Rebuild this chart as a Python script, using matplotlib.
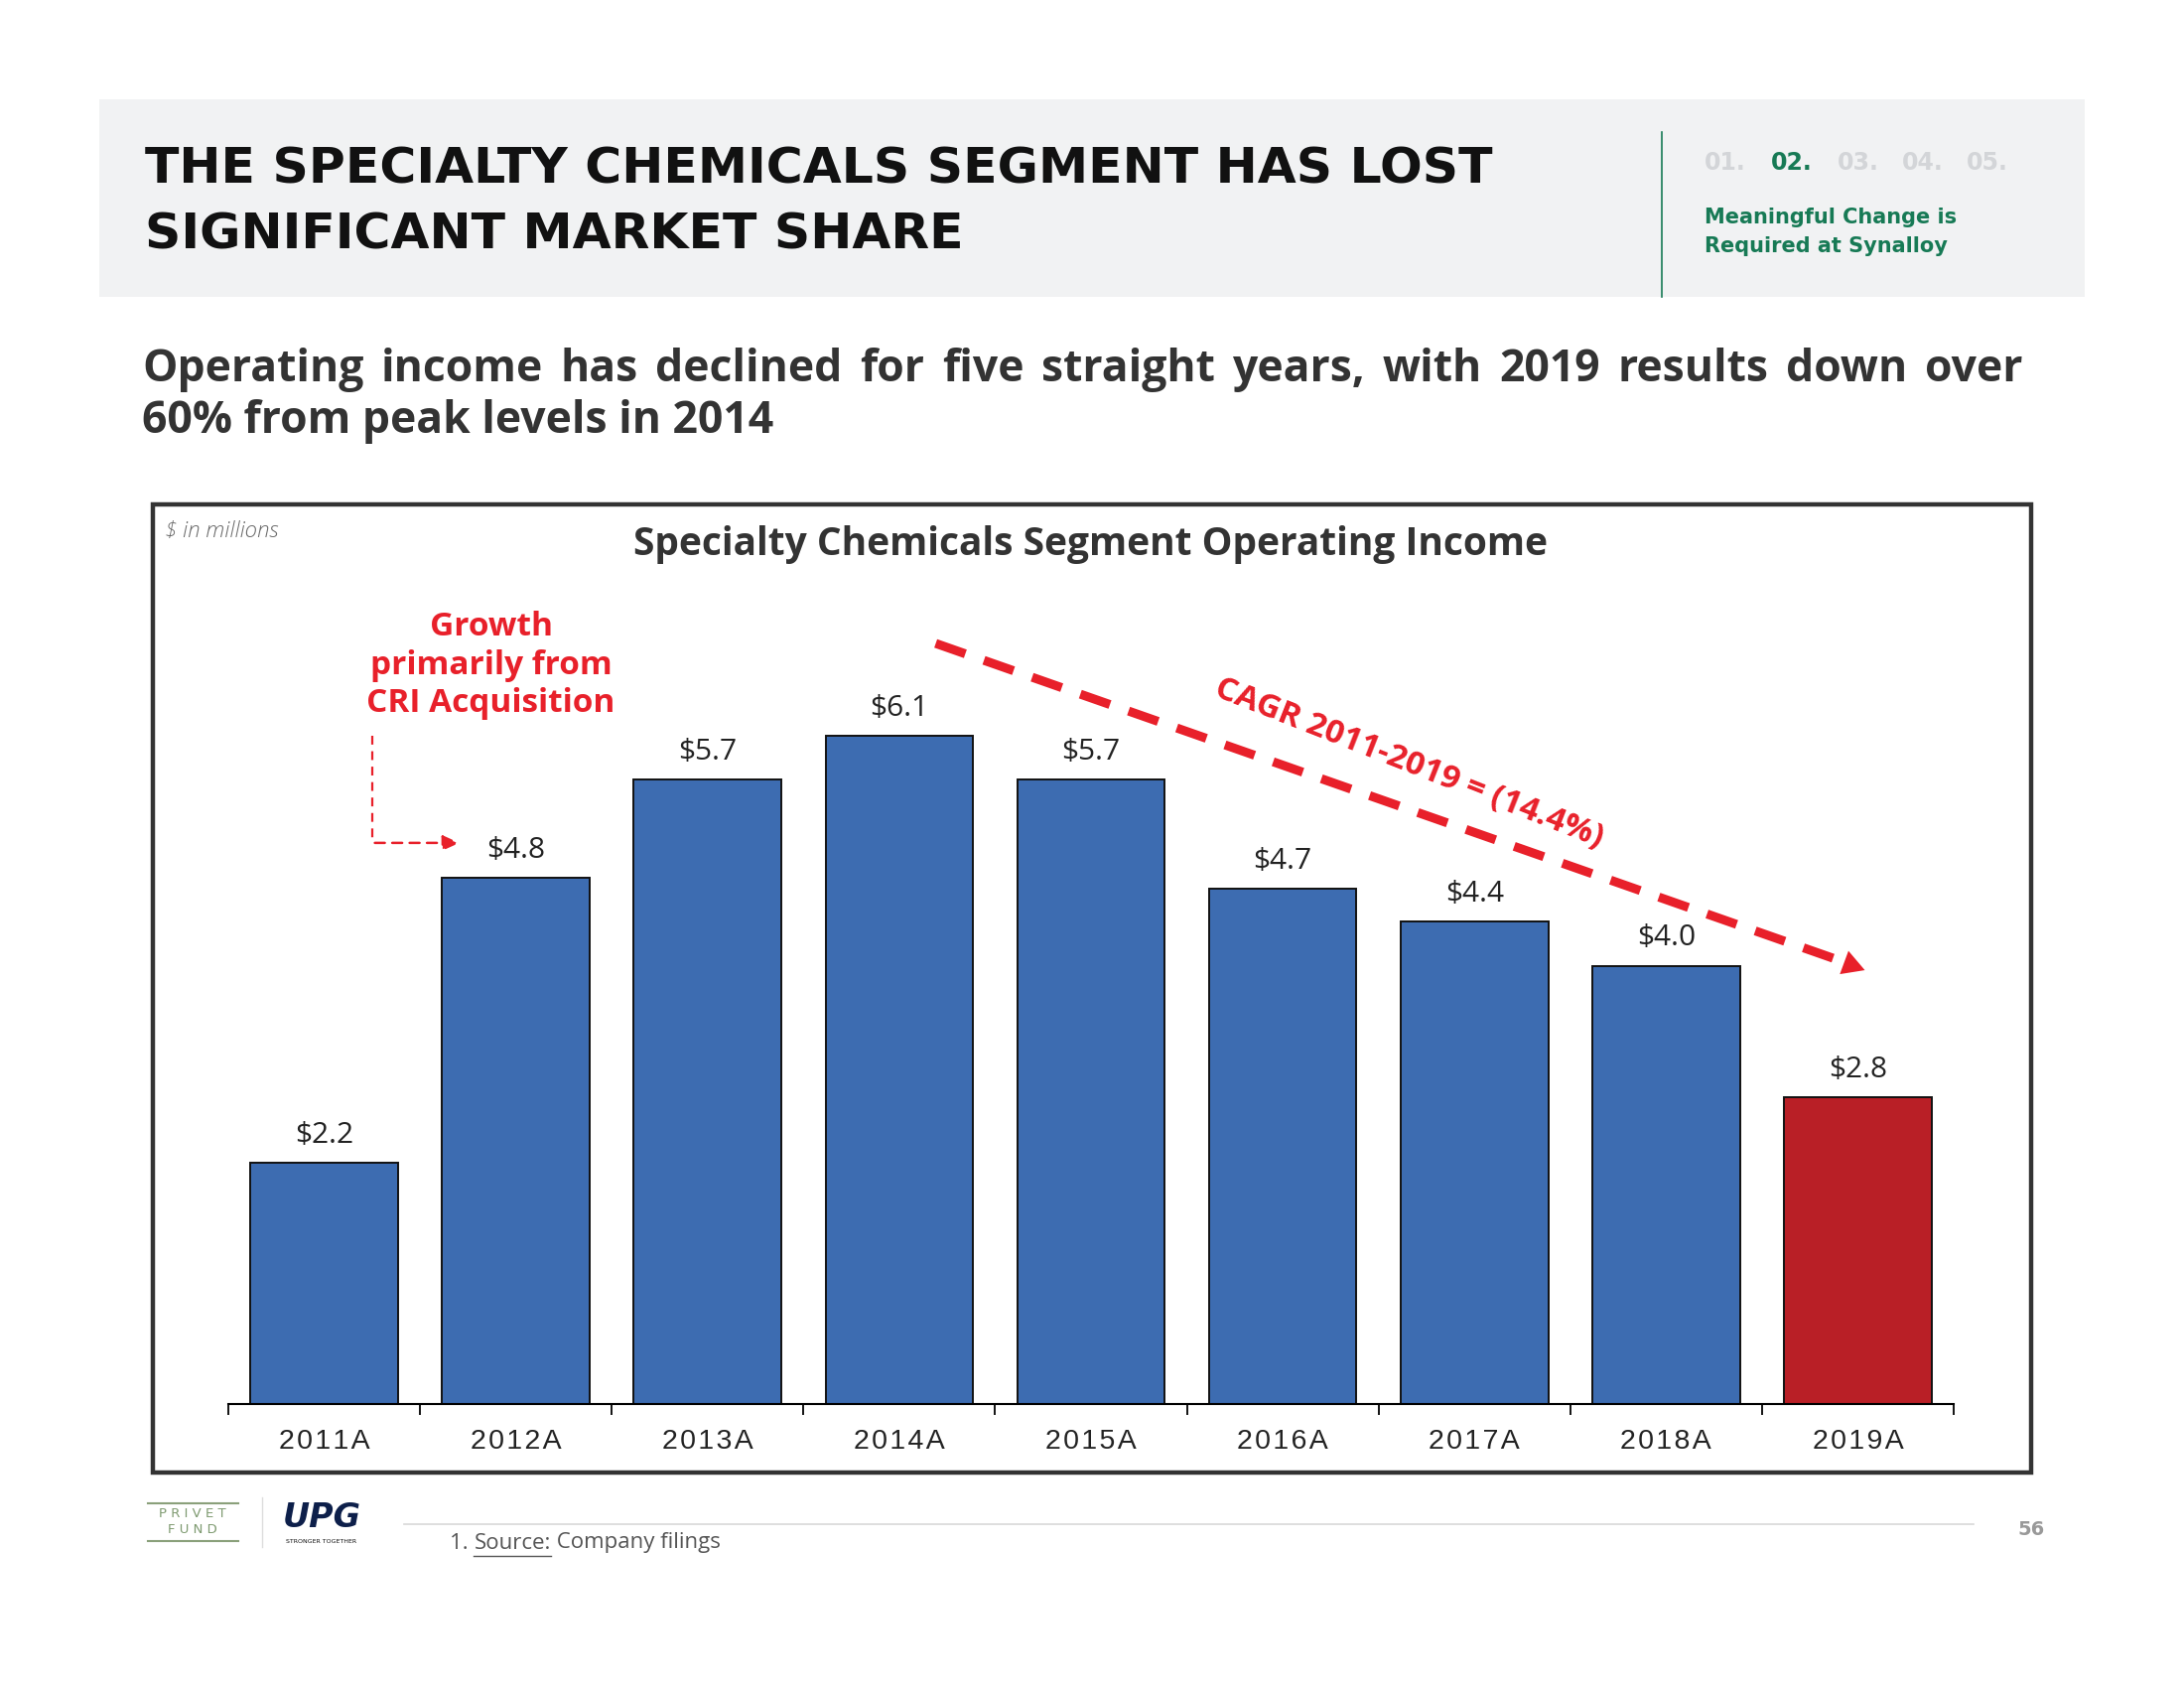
import numpy as np
import matplotlib
matplotlib.use("Agg")
import matplotlib.pyplot as plt
from matplotlib.patches import Rectangle

# data
years = ["2011A", "2012A", "2013A", "2014A", "2015A", "2016A", "2017A", "2018A", "2019A"]
income = [2.2, 4.8, 5.7, 6.1, 5.7, 4.7, 4.4, 4.0, 2.8]
labels = ["$2.2", "$4.8", "$5.7", "$6.1", "$5.7", "$4.7", "$4.4", "$4.0", "$2.8"]
title_lines = ["THE SPECIALTY CHEMICALS SEGMENT HAS LOST", "SIGNIFICANT MARKET SHARE"]
sub_line1 = "Operating income has declined for five straight years, with 2019 results down over"
sub_line2 = "60% from peak levels in 2014"
chart_title = "Specialty Chemicals Segment Operating Income"
cagr_text = "CAGR 2011-2019 = (14.4%)"
growth_text = "Growth\nprimarily from\nCRI Acquisition"

BLUE = "#3d6cb1"
RED_BAR = "#b91f26"
RED = "#e8202a"
GREEN = "#177a55"
DARK = "#333333"

fig = plt.figure(figsize=(22, 17), dpi=100)
fig.patch.set_facecolor("white")

# background axes in pixel coords (origin top-left)
bg = fig.add_axes([0, 0, 1, 1], zorder=0)
bg.set_xlim(0, 2200)
bg.set_ylim(1700, 0)
bg.axis("off")

# header band
bg.add_patch(Rectangle((100, 100), 2000, 199, facecolor="#f1f2f3", edgecolor="none"))
for i, ln in enumerate(title_lines):
    bg.text(146, 170 + i * 66, ln, fontsize=36.3, fontweight="bold", family="DejaVu Sans",
            color="#111111", va="center", ha="left")
bg.plot([1674, 1674], [133, 299], color=GREEN, lw=1.2)
nums = ["01.", "02.", "03.", "04.", "05."]
xs = [1717, 1784, 1851, 1916, 1981]
for n, x in zip(nums, xs):
    bg.text(x, 164, n, fontsize=17, fontweight="bold", family="DejaVu Sans",
            color=GREEN if n == "02." else "#d3d5d8", va="center", ha="left")
bg.text(1717, 219, "Meaningful Change is", fontsize=15, fontweight="bold",
        family="DejaVu Sans", color=GREEN, va="center")
bg.text(1717, 248, "Required at Synalloy", fontsize=15, fontweight="bold",
        family="DejaVu Sans", color=GREEN, va="center")

# subtitle, first line justified
words = sub_line1.split()
wtexts = [bg.text(0, 372, w, fontsize=32, fontweight="bold", family="Open Sans",
                  color=DARK, va="center", ha="left") for w in words]
fig.canvas.draw()
r = fig.canvas.get_renderer()
widths = [t.get_window_extent(renderer=r).width for t in wtexts]
x0, x1 = 143, 2037
gap = (x1 - x0 - sum(widths)) / (len(words) - 1)
x = x0
for t, w in zip(wtexts, widths):
    t.set_x(x)
    x += w + gap
bg.text(x0, 424, sub_line2, fontsize=32, fontweight="bold", family="Open Sans",
        color=DARK, va="center", ha="left")

# chart frame
bg.add_patch(Rectangle((154, 508), 1892, 975, facecolor="none", edgecolor="#333333", lw=3.2))
bg.text(166, 535, "$ in millions", fontsize=16, style="italic", family="Open Sans",
        color="#666666", va="center", ha="left", fontweight="light")
bg.text(1099, 548, chart_title, fontsize=28, fontweight="bold", family="Open Sans",
        color=DARK, va="center", ha="center")

# footer
bg.plot([149, 240], [1514, 1514], color="#8aa07a", lw=1.5)
bg.plot([149, 240], [1552, 1552], color="#8aa07a", lw=1.5)
bg.text(194, 1525, "P R I V E T", fontsize=9.5, color="#7e9a70", ha="center", va="center",
        family="DejaVu Sans")
bg.text(194, 1541, "F U N D", fontsize=9.5, color="#7e9a70", ha="center", va="center",
        family="DejaVu Sans")
bg.plot([264, 264], [1508, 1558], color="#dddddd", lw=1)
bg.text(324, 1528, "UPG", fontsize=24, fontweight="heavy", style="italic", color="#0d1f4a",
        ha="center", va="center", family="DejaVu Sans")
bg.text(324, 1552, "STRONGER TOGETHER", fontsize=4.5, color="#111111", ha="center",
        va="center", family="DejaVu Sans")
bg.plot([407, 1988], [1535, 1535], color="#d8d8d8", lw=1.2)
ft = bg.text(453, 1554, "1. ", fontsize=16, family="Open Sans", color="#555555", va="center")
fig.canvas.draw()
ftw = ft.get_window_extent(renderer=r).width
st = bg.text(453 + ftw, 1554, "Source:", fontsize=16, family="Open Sans", color="#555555",
             va="center")
fig.canvas.draw()
stw = st.get_window_extent(renderer=r).width
bg.plot([453 + ftw, 453 + ftw + stw], [1567, 1567], color="#555555", lw=1)
bg.text(453 + ftw + stw, 1554, " Company filings", fontsize=16, family="Open Sans",
        color="#555555", va="center")
bg.text(2046, 1541, "56", fontsize=14, fontweight="bold", family="DejaVu Sans",
        color="#999999", va="center", ha="center")

# bar chart
ax = fig.add_axes([230 / 2200, 1 - 1414 / 1700, 1738 / 2200, 883 / 1700], zorder=1)
ax.patch.set_alpha(0)
xpos = np.arange(len(years))
colors = [BLUE] * (len(years) - 1) + [RED_BAR]
ax.bar(xpos, income, width=0.77, color=colors, edgecolor="#111111", linewidth=1.4)
for xp, v, lab in zip(xpos, income, labels):
    ax.text(xp, v + 0.25, lab, ha="center", va="center", fontsize=21.5,
            family="Open Sans", color="#222222")
ax.set_xlim(-0.5, len(years) - 0.5)
ax.set_ylim(0, 8)
for s in ["top", "right", "left"]:
    ax.spines[s].set_visible(False)
ax.spines["bottom"].set_linewidth(1.5)
ax.set_yticks([])
ax.set_xticks(xpos)
ax.set_xticklabels(["\u200a".join(y) for y in years], fontsize=20.5,
                   family="Liberation Sans", color="#222222")
ax.tick_params(axis="x", which="major", length=0, pad=18)
ax.set_xticks(np.arange(-0.5, len(years)), minor=True)
ax.tick_params(axis="x", which="minor", length=8, width=1.3, direction="out")

# growth annotation
ax.text(0.87, 6.74, growth_text, ha="center", va="center", fontsize=24,
        fontweight="bold", family="Open Sans", color=RED, linespacing=1.22)
ax.plot([0.25, 0.25], [6.1, 5.12], color=RED, lw=1.6, ls=(0, (4, 3)), clip_on=False)
ax.annotate("", xy=(0.72, 5.12), xytext=(0.25, 5.12),
            arrowprops=dict(arrowstyle="-|>,head_length=1.0,head_width=0.45", color=RED,
                            lw=1.8, ls=(0, (4, 3))))

# CAGR dashed arrow
ax.plot([3.19, 7.90], [6.94, 4.05], color=RED, lw=6.5, ls=(0, (3.5, 2.2)), solid_capstyle="butt")
ax.annotate("", xy=(8.05, 3.95), xytext=(7.88, 4.06),
            arrowprops=dict(arrowstyle="-|>,head_length=1.6,head_width=0.9", color=RED, lw=0))
ax.text(5.66, 5.84, cagr_text, ha="center", va="center", fontsize=24, fontweight="bold",
        family="Open Sans", color=RED, rotation=-21.5, rotation_mode="anchor")

fig.savefig("out.png", dpi=100)
